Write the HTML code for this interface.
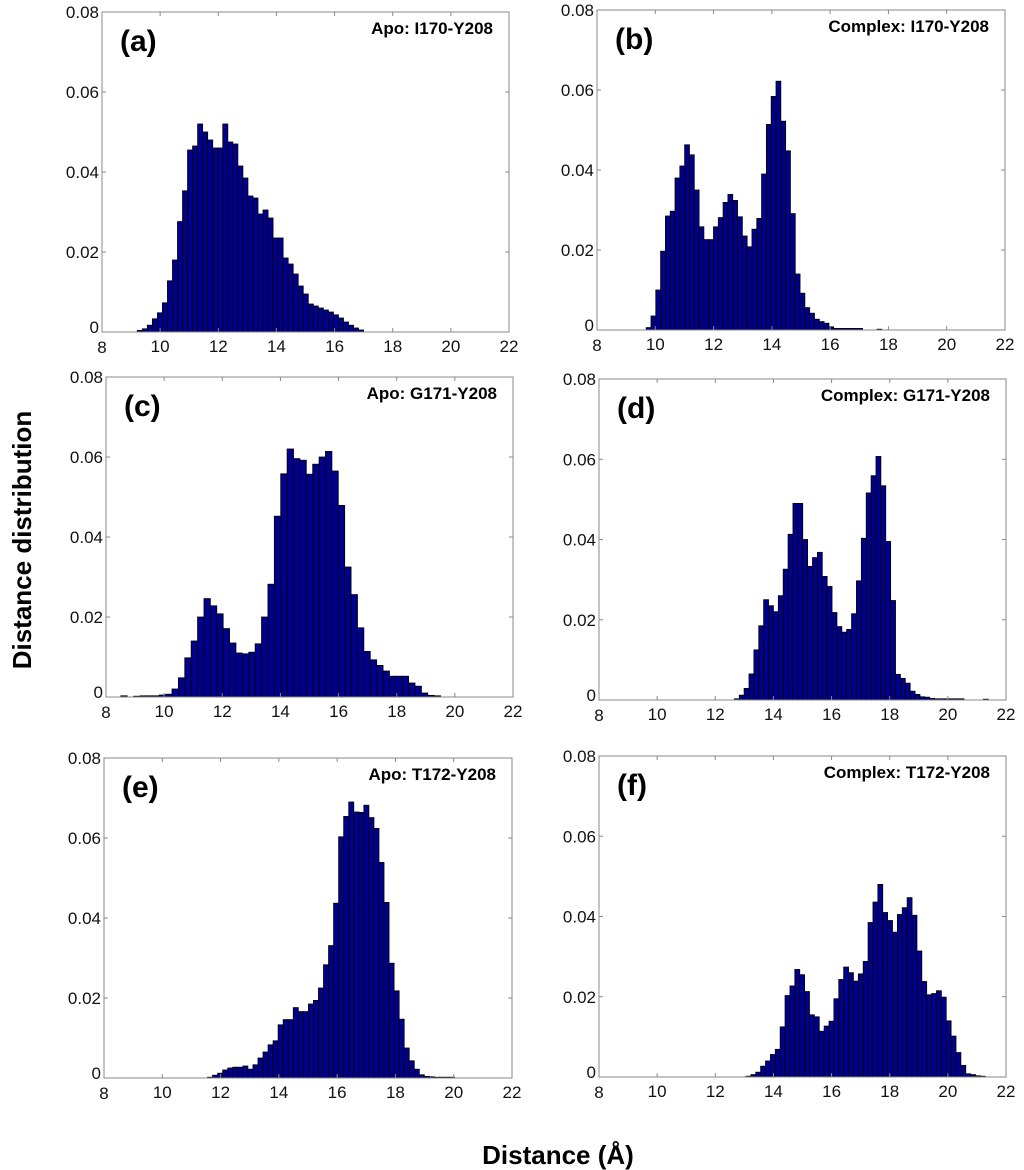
<!DOCTYPE html>
<html><head><meta charset="utf-8"><style>
body{margin:0;background:#fff;}
svg{display:block;font-family:"Liberation Sans",Arial,sans-serif;}
</style></head><body>
<svg id="fig" width="1024" height="1170" viewBox="0 0 1024 1170">
<text x="22" y="540" transform="rotate(-90 22 540)" text-anchor="middle" dominant-baseline="central" font-size="26" font-weight="bold">Distance distribution</text>
<text x="558" y="1155" text-anchor="middle" dominant-baseline="central" font-size="26" font-weight="bold">Distance (Å)</text>
</svg>
<script>
const xTicks=[8,10,12,14,16,18,20,22];
const yTicks=[0,0.02,0.04,0.06,0.08];
const yTickLabels=["0","0.02","0.04","0.06","0.08"];
const panelLetters=["(a)","(b)","(c)","(d)","(e)","(f)"];
const panelTitles=["Apo: I170-Y208","Complex: I170-Y208","Apo: G171-Y208","Complex: G171-Y208","Apo: T172-Y208","Complex: T172-Y208"];
const binStarts=[9.3,9.77,8.62,12.74,11.64,13.14];
const binWidths=[0.173,0.165,0.22,0.168,0.173,0.168];
const valuesA=[.0004,.0008,.0017,.0033,.0048,.0073,.0128,.018,.0276,.0353,.0455,.0465,.052,.050,.048,.046,.046,.052,.0475,.047,.0415,.0385,.034,.0335,.0295,.0305,.0285,.0235,.0235,.0185,.017,.0145,.0115,.0095,.007,.0065,.006,.0055,.005,.0043,.0035,.0025,.0017,.001,.0005];
const valuesB=[.0006,.0035,.010,.0197,.0285,.0297,.038,.041,.0463,.0438,.035,.0258,.0226,.0226,.0258,.0281,.0319,.0339,.0324,.0283,.0235,.0208,.0252,.0279,.039,.0514,.0584,.0622,.0522,.0448,.0291,.014,.0092,.0056,.0042,.0027,.0021,.0017,.0008,.0004,.0004,.0004,.0004,.0004,.0004,0,0,0,.0002];
const valuesC=[.0003,0,.0002,.0003,.0003,.0003,.0005,.0007,.002,.0048,.0098,.014,.020,.0246,.0228,.0208,.0171,.0135,.011,.0108,.0112,.0133,.020,.0282,.0452,.0558,.062,.0596,.0592,.0557,.0582,.0600,.0614,.0565,.0479,.0325,.0256,.0173,.0114,.0093,.0079,.0065,.0052,.0052,.0052,.0035,.0027,.001,.0004,.0003];
const valuesD=[.0003,.0012,.0029,.0065,.0125,.0185,.025,.0235,.022,.026,.0326,.0413,.049,.049,.040,.0333,.0355,.0368,.0308,.0283,.0218,.0183,.0169,.0176,.0215,.0297,.0403,.0516,.0559,.0607,.0534,.0395,.0248,.0064,.0054,.0042,.0022,.0014,.0008,.0007,.0004,.0003,.0003,.0003,.0003,.0003,.0003,0,0,0,0,.0002];
const valuesE=[.0002,.0007,.0012,.002,.0025,.0027,.0027,.003,.0022,.0033,.005,.0065,.0083,.0093,.0133,.0146,.0146,.0176,.0166,.0166,.0185,.0194,.0225,.0283,.0331,.0437,.0603,.0654,.069,.0665,.0664,.0682,.0651,.0624,.0539,.0439,.0287,.0218,.0147,.0075,.0043,.0022,.0008,.0004,.0003,.0002,.0002,.0002,.0002];
const valuesF=[.0002,.0006,.0012,.0027,.004,.0056,.0069,.0125,.0203,.0227,.0268,.0255,.0213,.0155,.015,.0114,.0127,.0139,.0195,.0243,.0274,.026,.0239,.0257,.0288,.0385,.0436,.048,.041,.039,.0361,.0405,.0422,.0447,.0403,.0314,.0238,.0205,.0208,.0215,.0199,.014,.0102,.0061,.0029,.0008,.0006,.0003,.0002];
const allValues=[valuesA,valuesB,valuesC,valuesD,valuesE,valuesF];
const boxes=[[102,12,509,332],[597,10,1005,330],[106,377,513,697],[599,379,1006,700],[104,758,512,1078],[599,756,1006,1077]];
const NS="http://www.w3.org/2000/svg";
const fig=document.getElementById('fig');
function mk(tag,attrs,parent){const e=document.createElementNS(NS,tag);for(const k in attrs)e.setAttribute(k,attrs[k]);parent.appendChild(e);return e;}
const ids=['a','b','c','d','e','f'];
boxes.forEach((b,p)=>{
  const [x0,y0,x1,y1]=b;
  const g=mk('g',{},fig);
  
  
  const sx=v=>x0+(v-8)/14*(x1-x0);
  const sy=v=>y1-v/0.08*(y1-y0);
  const vals=allValues[p],w=binWidths[p],st=binStarts[p];
  vals.forEach((v,i)=>{
    if(v<=0)return;
    const c=st+i*w;
    const r=mk('rect',{x:sx(c-w/2),y:sy(v),width:sx(c+w/2)-sx(c-w/2),height:y1-sy(v),fill:'#00008c',stroke:'#000','stroke-width':0.8},g);
    
    
  });
  const frame=mk('rect',{x:x0,y:y0,width:x1-x0,height:y1-y0,fill:'none',stroke:'#888','stroke-width':1},g);
  
  
  xTicks.forEach(t=>{
    const X=sx(t);
    mk('line',{x1:X,y1:y1,x2:X,y2:y1-4,stroke:'#888'},g);
    mk('line',{x1:X,y1:y0,x2:X,y2:y0+4,stroke:'#888'},g);
    const tx=mk('text',{x:X,y:y1+(t===8?21:20),'text-anchor':'middle','font-size':17,fill:'#111'},g);
    tx.textContent=t;
    
    
  });
  yTicks.forEach((t,i)=>{
    const Y=sy(t);
    mk('line',{x1:x0,y1:Y,x2:x0+4,y2:Y,stroke:'#888'},g);
    mk('line',{x1:x1,y1:Y,x2:x1-4,y2:Y,stroke:'#888'},g);
    const ty=mk('text',{x:x0-3,y:Y+(i===0?1:6),'text-anchor':'end','font-size':17,fill:'#111'},g);
    ty.textContent=yTickLabels[i];
    
    
  });
  const lt=mk('text',{x:x0+18,y:y0+39,'font-size':30,'font-weight':'bold'},g);
  lt.textContent=panelLetters[p];
  
  
  const tt=mk('text',{x:x1-16,y:y0+22,'text-anchor':'end','font-size':17,'font-weight':'bold'},g);
  tt.textContent=panelTitles[p];
  
  
});
</script>
</body></html>
